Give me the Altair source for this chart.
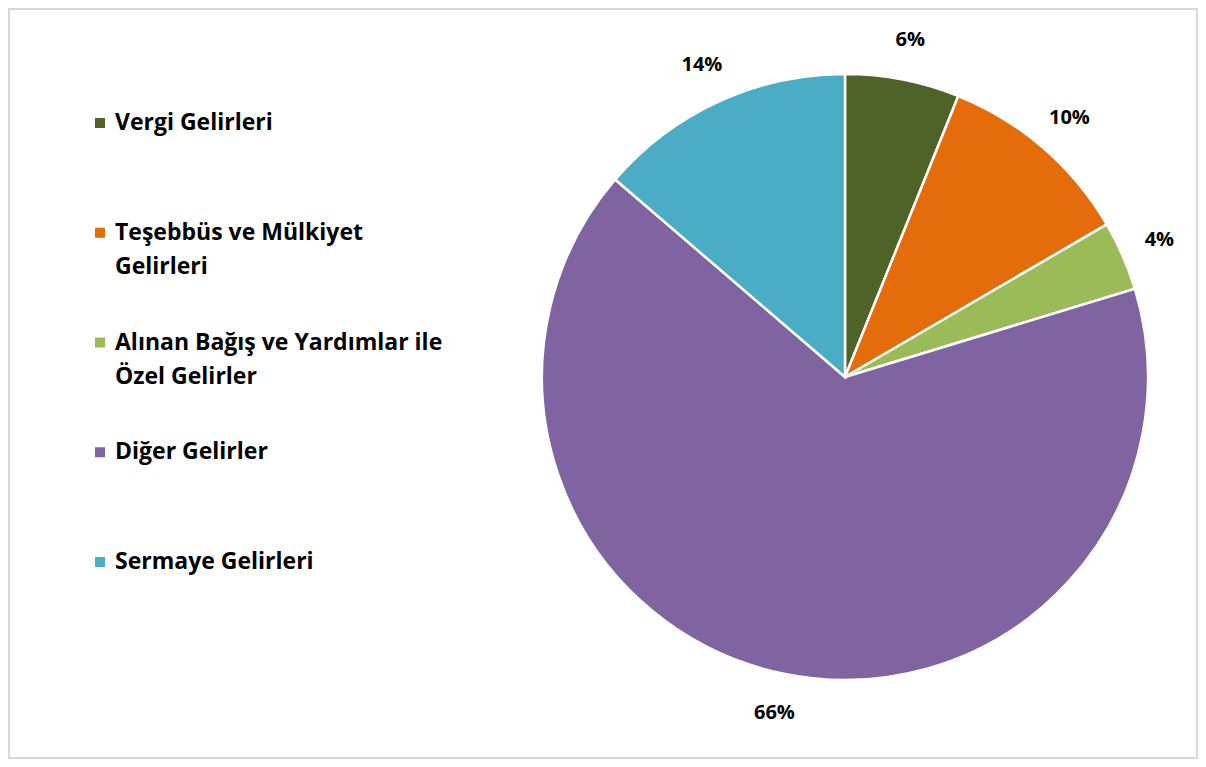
import altair as alt
import pandas as pd

categories = [
    "Vergi Gelirleri",
    "Teşebbüs ve Mülkiyet Gelirleri",
    "Alınan Bağış ve Yardımlar ile Özel Gelirler",
    "Diğer Gelirler",
    "Sermaye Gelirleri",
]
legend_labels = [
    "Vergi Gelirleri",
    "Teşebbüs ve Mülkiyet\nGelirleri",
    "Alınan Bağış ve Yardımlar ile\nÖzel Gelirler",
    "Diğer Gelirler",
    "Sermaye Gelirleri",
]
shares = [6.1, 10.5, 3.7, 66.0, 13.7]
pct_labels = ["6%", "10%", "4%", "66%", "14%"]
colors = ["#4F6228", "#E46C0A", "#9BBB59", "#8064A2", "#4BACC6"]

df = pd.DataFrame({
    "cat": categories,
    "legend": legend_labels,
    "share": shares,
    "pct": pct_labels,
    "order": list(range(len(categories))),
})

FONT = "Open Sans"
cx, cy = 836, 368

color = alt.Color("cat:N", scale=alt.Scale(domain=categories, range=colors), legend=None)
yscale = alt.Scale(type="point", domain=categories, range=[114, 553], padding=0)

base = alt.Chart(df)

pie = base.mark_arc(outerRadius=303, stroke="white", strokeWidth=2.5).encode(
    theta=alt.Theta("share:Q", stack=True),
    order=alt.Order("order:Q"),
    color=color,
    x=alt.value(cx),
    y=alt.value(cy),
)

pct = base.mark_text(radius=343, font=FONT, fontWeight="bold", fontSize=20, color="black").encode(
    theta=alt.Theta("share:Q", stack=True),
    order=alt.Order("order:Q"),
    text="pct:N",
    x=alt.value(cx),
    y=alt.value(cy),
)

squares = base.mark_square(size=100, opacity=1).encode(
    x=alt.value(91),
    y=alt.Y("cat:N", scale=yscale, axis=None),
    color=color,
)

labels = base.mark_text(
    align="left", baseline="middle", lineBreak="\n", lineHeight=34, dy=0,
    font=FONT, fontWeight="bold", fontSize=23, color="black",
).encode(
    x=alt.value(106),
    y=alt.Y("cat:N", scale=yscale, axis=None),
    text="legend:N",
)

chart = alt.layer(pie, pct, squares, labels).properties(
    width=1190,
    height=751,
    padding={"left": 1, "top": 1, "right": 1, "bottom": 1},
    autosize=alt.AutoSizeParams(type="fit", contains="padding"),
    background="white",
).configure_view(stroke="#D9D9D9", strokeWidth=2)

chart.save("out.html", embed_options={"renderer": "svg", "actions": False})
